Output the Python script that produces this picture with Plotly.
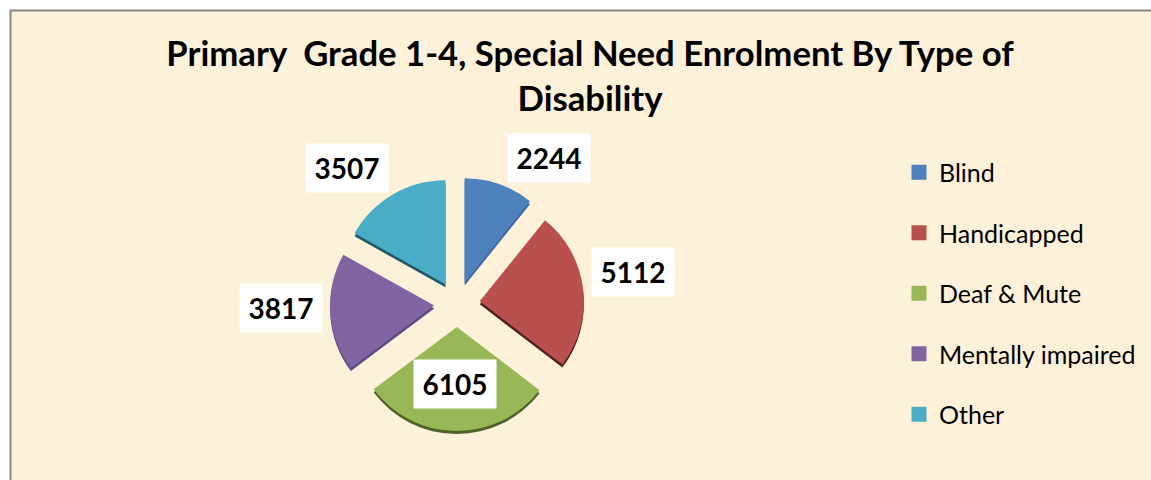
import plotly.graph_objects as go

categories = ["Blind", "Handicapped", "Deaf & Mute", "Mentally impaired", "Other"]
values = [2244, 5112, 6105, 3817, 3507]
colors = ["#4F81BD", "#B9504E", "#98B858", "#8064A2", "#4BACC6"]
edge_colors = ["#3E6A9E", "#4F2020", "#4F6228", "#60497A", "#215868"]
title_text = "Primary  Grade 1-4, Special Need Enrolment By Type of<br>Disability"

W, H = 1151, 480
cx, cy, R = 457, 304, 127
depth = 3
pull = 0.22


def fx(px):
    return px / W


def fy(py):
    return 1 - py / H


def dom(center_x, center_y):
    return dict(x=[fx(center_x - R), fx(center_x + R)], y=[fy(center_y + R), fy(center_y - R)])


fig = go.Figure()
# darker copy underneath gives the bevelled edge of the slices
fig.add_trace(go.Pie(labels=categories, values=values, sort=False, direction="clockwise",
                     rotation=0, pull=pull, textinfo="none", hoverinfo="skip",
                     marker=dict(colors=edge_colors, line=dict(width=0)),
                     domain=dom(cx, cy + depth), showlegend=False))
fig.add_trace(go.Pie(labels=categories, values=values, sort=False, direction="clockwise",
                     rotation=0, pull=pull, textinfo="none",
                     marker=dict(colors=colors, line=dict(width=0)),
                     domain=dom(cx, cy), showlegend=False))

# legend entries, one group each so the gap between them can be set
for name, col in zip(categories, colors):
    fig.add_trace(go.Scatter(x=[None], y=[None], mode="markers", name=name, legendgroup=name,
                             marker=dict(symbol="square", size=15, color=col)))

# data labels on white boxes
label_px = [(549, 158), (633, 272), (455, 384), (281, 308), (347, 168)]
annotations = [
    dict(x=fx(px), y=fy(py), xref="paper", yref="paper", text=f"<b>{v}</b>", showarrow=False,
         bgcolor="white", width=80, height=46, borderpad=1, xanchor="center", yanchor="middle",
         font=dict(family="Lato", size=28, color="black"))
    for (px, py), v in zip(label_px, values)
]

fig.update_layout(
    width=W, height=H, autosize=False,
    margin=dict(l=0, r=0, t=0, b=0),
    paper_bgcolor="white", plot_bgcolor="rgba(0,0,0,0)",
    xaxis=dict(visible=False), yaxis=dict(visible=False),
    title=dict(text=f"<b>{title_text}</b>", x=fx(590), xanchor="center", y=fy(66), yanchor="top",
               font=dict(family="Lato", size=34.7, color="black")),
    legend=dict(x=fx(899), y=fy(149.5), xanchor="left", yanchor="top", tracegroupgap=25,
                bgcolor="rgba(0,0,0,0)", itemwidth=30,
                font=dict(family="Lato", size=25, color="black")),
    annotations=annotations,
    shapes=[dict(type="rect", xref="paper", yref="paper", layer="below",
                 x0=fx(10.5), x1=1.01, y0=-0.01, y1=fy(10.5),
                 fillcolor="#FDF1DA", line=dict(color="#868686", width=2))],
)

fig.write_html("out.html", config={"displayModeBar": False},
               post_script="document.body.style.margin='0';")
